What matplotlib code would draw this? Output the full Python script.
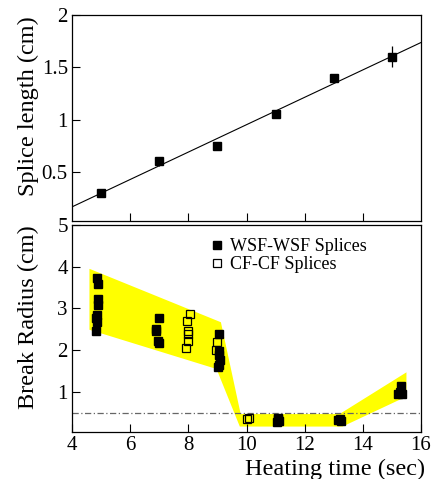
import matplotlib
matplotlib.use("Agg")
import matplotlib.pyplot as plt

plt.rcParams['font.family'] = ['Liberation Serif', 'DejaVu Serif']

# top panel: splice length vs heating time
heat_t = [5, 7, 9, 11, 13, 15]
splice_len = [0.30, 0.60, 0.75, 1.05, 1.40, 1.60]
splice_err = [0.03, 0.04, 0.03, 0.03, 0.03, 0.10]
fit_x = [4, 16]
fit_y = [0.165, 1.737]

# bottom panel: break radius
wsf_x = [4.85, 4.88, 4.9, 4.9, 4.85, 4.82, 4.85, 4.83,
         7.0, 6.9, 6.88, 6.95, 7.0,
         9.05, 9.05, 9.07, 9.08, 9.04, 9.02,
         11.05, 11.1, 11.12, 11.08,
         13.15, 13.22, 13.25,
         15.3, 15.22, 15.35]
wsf_y = [3.73, 3.58, 3.22, 3.09, 2.85, 2.77, 2.67, 2.46,
         2.78, 2.5, 2.45, 2.22, 2.18,
         2.40, 1.97, 1.88, 1.77, 1.65, 1.60,
         0.28, 0.35, 0.30, 0.38,
         0.32, 0.35, 0.30,
         1.15, 0.95, 0.95]
cf_x = [8.05, 7.94, 8.0, 8.0, 7.98, 7.92, 8.97, 8.95, 10.02, 10.08, 15.27]
cf_y = [2.86, 2.69, 2.45, 2.38, 2.22, 2.06, 2.20, 2.00, 0.36, 0.38, 1.0]

band_x = [4.6, 9.12, 9.8, 13.2, 15.5, 15.5, 13.3, 9.77, 8.97, 4.6]
band_y = [3.95, 2.67, 0.47, 0.47, 1.47, 0.89, 0.17, 0.17, 1.55, 2.49]
cut_level = 0.5

fig = plt.figure(figsize=(4.33, 4.79), dpi=100)
ax1 = fig.add_axes([72/433, 1-221/479, 349/433, 206/479])
ax2 = fig.add_axes([72/433, 1-432/479, 349/433, 207/479])

ax1.plot(fit_x, fit_y, color='black', lw=0.8)
ax1.errorbar(heat_t, splice_len, yerr=splice_err, fmt='s', color='black',
             ms=5.2, elinewidth=0.9, capsize=0)
ax1.set_xlim(4, 16)
ax1.set_ylim(0.03, 2.0)
ax1.set_yticks([0.5, 1, 1.5, 2])
ax1.set_yticklabels(['0.5', '1', '1.5', '2'])
ax1.set_xticks([6, 8, 10, 12, 14])
ax1.tick_params(axis='x', labelbottom=False)
ax1.set_ylabel('Splice length (cm)', fontsize=17.5)
ax1.yaxis.set_label_coords(-0.095, 0.56)

ax2.fill(band_x, band_y, color='#ffff00', lw=0, zorder=1)
ax2.axhline(cut_level, color='#666666', lw=0.9, ls=(0, (5, 2, 1, 2)), zorder=2)
ax2.plot(wsf_x, wsf_y, 's', color='black', ms=5.2, ls='none', zorder=3,
         label='WSF-WSF Splices')
ax2.plot(cf_x, cf_y, 's', mfc='none', mec='black', mew=0.9, ms=5.2,
         ls='none', zorder=4, label='CF-CF Splices')
ax2.set_xlim(4, 16)
ax2.set_ylim(0.04, 5)
ax2.set_xticks([4, 6, 8, 10, 12, 14, 16])
ax2.set_yticks([1, 2, 3, 4, 5])
ax2.set_ylabel('Break Radius (cm)', fontsize=17.5)
ax2.yaxis.set_label_coords(-0.095, 0.555)
ax2.set_xlabel('Heating time (sec)', fontsize=17.5)
ax2.xaxis.set_label_coords(0.755, -0.13)
ax2.legend(loc='upper left', bbox_to_anchor=(0.375, 0.98), frameon=False,
           fontsize=13, handlelength=0.6, handletextpad=0.4,
           borderpad=0, labelspacing=0.05)

for ax in (ax1, ax2):
    ax.tick_params(direction='in', length=6, width=0.8, labelsize=15,
                   top=False, right=False, pad=3)
    for s in ax.spines.values():
        s.set_linewidth(0.9)

fig.savefig('out.png', dpi=100)
